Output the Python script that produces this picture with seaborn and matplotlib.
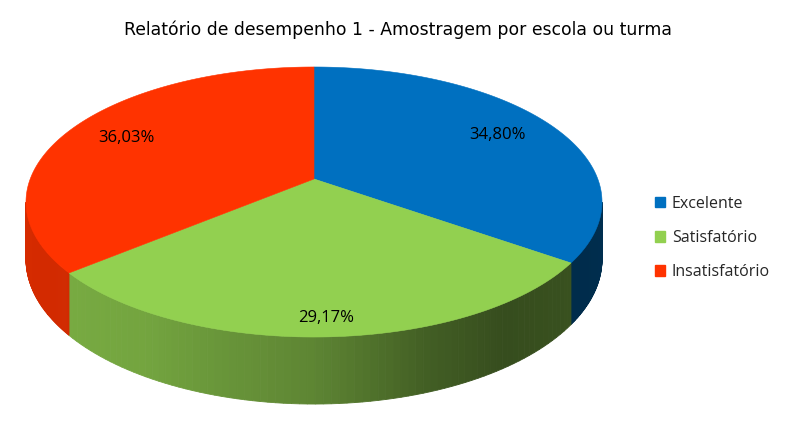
import numpy as np
import matplotlib
matplotlib.use("Agg")
import matplotlib.pyplot as plt
from matplotlib.patches import Patch
import seaborn as sns

# dados do gráfico
categorias = ["Excelente", "Satisfatório", "Insatisfatório"]
percentuais = [34.80, 29.17, 36.03]
rotulos = ["34,80%", "29,17%", "36,03%"]
cores = ["#0070C0", "#92D050", "#FF3300"]
titulo = "Relatório de desempenho 1 - Amostragem por escola ou turma"

sns.set_theme(style="white")
plt.rcParams["font.family"] = ["Open Sans", "DejaVu Sans"]

# geometria da pizza 3D em pixels (perspectiva simples)
CX, CY = 314, 179
A, B, K = 283.8, 131.1, 0.1704
PROF = 55.6
raio_rotulo = [0.77, 0.9, 0.77]

# sombreamento das laterais em função do ângulo
sombra_t = np.radians([-180, -140, -120, -90, -70, -55, -35, 0])
sombra_f = [0.85, 0.82, 0.79, 0.64, 0.45, 0.37, 0.39, 0.42]


def projeta(t, r=1.0, desce=0.0):
    u = r * np.cos(t)
    v = r * np.sin(t)
    w = 1 + K * v
    return CX + A * u / w, CY - B * v / w + desce / w


fig = plt.figure(figsize=(7.9, 4.3), dpi=100)
ax = fig.add_axes([0, 0, 1, 1])
ax.set_xlim(0, 790)
ax.set_ylim(430, 0)
ax.axis("off")

fracoes = np.array(percentuais) / sum(percentuais)
limites = np.radians(90 - 360 * np.concatenate([[0], np.cumsum(fracoes)]))
t0 = np.arcsin(-K)  # silhueta lateral

# laterais visíveis
for i, cor in enumerate(cores):
    ini, fim = limites[i + 1], limites[i]
    lo, hi = max(ini, -np.pi - t0), min(fim, t0)
    if lo >= hi:
        continue
    base = np.array(matplotlib.colors.to_rgb(cor))
    ts = np.linspace(lo, hi, 80)
    for a, b in zip(ts[:-1], ts[1:]):
        f = np.interp((a + b) / 2, sombra_t, sombra_f)
        c = base * f
        xa, ya = projeta(a)
        xb, yb = projeta(b)
        xa2, ya2 = projeta(a, desce=PROF)
        xb2, yb2 = projeta(b, desce=PROF)
        ax.fill([xa, xb, xb2, xa2], [ya, yb, yb2, ya2], color=c, lw=0.6, ec=c)

# faces superiores
for i, cor in enumerate(cores):
    ts = np.linspace(limites[i], limites[i + 1], 200)
    xs, ys = projeta(ts)
    ax.fill(np.r_[CX, xs], np.r_[CY, ys], color=cor, lw=0.4, ec=cor)

# rótulos de porcentagem
for i, txt in enumerate(rotulos):
    meio = (limites[i] + limites[i + 1]) / 2
    x, y = projeta(meio, r=raio_rotulo[i])
    ax.text(x, y, txt, ha="center", va="center", fontsize=12, color="black")

fig.text(398 / 790, 1 - 30 / 430, titulo, ha="center", va="center",
         fontsize=12.4, family="DejaVu Sans", color="black")

alcas = [Patch(facecolor=c, edgecolor=c) for c in cores]
ax.legend(alcas, categorias, loc="center left",
          bbox_to_anchor=(655 / 790, 1 - 238 / 430), bbox_transform=fig.transFigure,
          frameon=False, fontsize=11.5, handlelength=0.65, handleheight=0.65,
          handletextpad=0.4, labelspacing=1.15, borderpad=0, borderaxespad=0)

fig.savefig("out.png", dpi=100, facecolor="white")
